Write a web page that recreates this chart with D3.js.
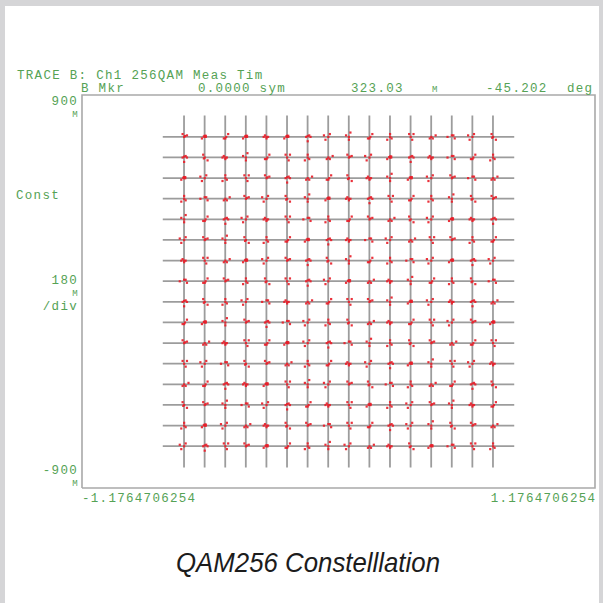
<!DOCTYPE html>
<html>
<head>
<meta charset="utf-8">
<script src="https://cdn.jsdelivr.net/npm/d3@7"></script>
<style>
html,body{margin:0;padding:0;background:#d5d5d7;}
svg{display:block;}
</style>
</head>
<body>
<script>
// ---- data ----
const xDomain = [-1.1764706254, 1.1764706254];
const yDomain = [-0.9, 0.9];
const xTickLabels = ["-1.1764706254", "1.1764706254"];
const yTickLabels = ["900", "-900"];
const yTickValues = [0.9, -0.9];
// ideal I / Q levels of the 256QAM grid
const levels = [-0.7085, -0.6140, -0.5195, -0.4251, -0.3306, -0.2361, -0.1417, -0.0472,
                 0.0472,  0.1417,  0.2361,  0.3306,  0.4251,  0.5195,  0.6140,  0.7085];
const gridExtent = 0.806;
// measured-point scatter shapes around each symbol (thousandths of a unit)
const clusterShapes = [
  [[0,0],[4,4],[13,7],[-7,13]],
  [[-13,0],[-7,7],[0,-7],[7,0],[0,0]],
  [[0,13],[7,-7],[-13,-13],[0,0]],
  [[7,7],[13,0],[-7,0],[0,-20],[0,4]],
  [[-7,-7],[0,0],[7,-7],[20,7]],
  [[0,-13],[-13,7],[7,20],[0,0]],
  [[-20,0],[0,7],[7,7],[13,-7]],
  [[7,-13],[0,0],[-7,13],[13,13]],
  [[0,0],[0,5],[5,0],[5,5],[-4,2],[-13,-7]],
  [[-7,13],[13,-13],[0,0],[-4,-4]],
  [[13,13],[-7,-7],[0,-7],[4,0]],
  [[-13,-13],[7,13],[0,0],[-20,7]]
];
// shape used by each symbol, rows from top (Q high) to bottom, columns I low to high
const clusterMap = [
  "08a8183b5a2746b9",
  "3915a7240b8316a2",
  "8b27034a9158b064",
  "2640b958137a2590",
  "5a3b1762a049b813",
  "b0592a8316b4702a",
  "1748b0395a26b83b",
  "6a02973b8415a296",
  "392b614a7058b134",
  "a85036b2941a7b08",
  "0417a8b3652904a7",
  "7b69042a1b3857b1",
  "4a31875b09624a39",
  "9056b3a1782b051a",
  "28b419067a3b5904",
  "b3708a25b4198672"
];
const header1 = "TRACE B: Ch1 256QAM Meas Tim";
const header2 = [["B Mkr", 81], ["0.0000 sym", 198], ["323.03", 351], ["-45.202", 486], ["deg", 567]];
const title = "QAM256 Constelllation";

// ---- drawing ----
const W = 603, H = 603;
const svg = d3.select("body").append("svg").attr("width", W).attr("height", H);
svg.append("rect").attr("x", 5).attr("y", 6).attr("width", 594).attr("height", H - 6).attr("fill", "#ffffff");

const pL = 82, pR = 595, pT = 95, pB = 488;
const x = d3.scaleLinear().domain(xDomain).range([pL, pR]);
const y = d3.scaleLinear().domain(yDomain).range([pB, pT]);

const green = "#55a255";
const mono = "'Liberation Mono','DejaVu Sans Mono',monospace";

// frame
svg.append("path")
  .attr("d", `M${pL},${pB}V${pT}H${pR}V${pB}H${pL}`)
  .attr("fill", "none").attr("stroke", "#a9a9a9").attr("stroke-width", 1.6);

// grid lines through constellation levels
const g = svg.append("g");
g.selectAll("line.v").data(levels).join("line").attr("class", "v")
  .attr("x1", d => x(d)).attr("x2", d => x(d))
  .attr("y1", y(gridExtent)).attr("y2", y(-gridExtent))
  .attr("stroke", "#9c9c9c").attr("stroke-width", 1.8);
g.selectAll("line.h").data(levels).join("line").attr("class", "h")
  .attr("y1", d => y(d)).attr("y2", d => y(d))
  .attr("x1", x(-gridExtent)).attr("x2", x(gridExtent))
  .attr("stroke", "#9c9c9c").attr("stroke-width", 1.8);

// measured points
const pts = [];
clusterMap.forEach((row, r) => {
  const q = levels[15 - r];
  for (let c = 0; c < 16; c++) {
    const i = levels[c];
    const shape = clusterShapes[parseInt(row[c], 16) % clusterShapes.length];
    shape.forEach(o => pts.push([i + o[0] / 1000, q + o[1] / 1000]));
  }
});
svg.append("g").selectAll("rect").data(pts).join("rect")
  .attr("x", d => x(d[0]) - 1).attr("y", d => y(d[1]) - 1)
  .attr("width", 2.2).attr("height", 2.2)
  .attr("fill", "#e8202a").attr("opacity", 0.92);

// texts
function txt(s, xx, yy, anchor, size) {
  return svg.append("text").text(s).attr("x", xx).attr("y", yy)
    .attr("text-anchor", anchor || "start")
    .attr("font-family", mono).attr("font-size", size || 12.5)
    .attr("letter-spacing", size ? 0.3 : 1.3)
    .attr("fill", green);
}
txt(header1, 17, 78.5);
header2.forEach(h => txt(h[0], h[1], 91.5));
txt("M", 432, 91.5, "start", 9);

// y tick labels (value line, then unit line)
const yLabelOffsets = [[10, 22], [-14, -2]];
yTickValues.forEach((v, k) => {
  txt(yTickLabels[k], 78, y(v) + yLabelOffsets[k][0], "end");
  txt("M", 78, y(v) + yLabelOffsets[k][1], "end", 9);
});
txt("Const", 16, 199);
txt("180", 78, 283.5, "end");
txt("M", 78, 296, "end", 9);
txt("/div", 78, 310, "end");

// x tick labels
txt(xTickLabels[0], x(xDomain[0]), 501.5, "start");
txt(xTickLabels[1], x(xDomain[1]) + 1.3, 501.5, "end");

// title
svg.append("text").text(title)
  .attr("x", 176).attr("y", 572)
  .attr("font-family", "'Liberation Sans', Arial, sans-serif")
  .attr("font-style", "italic").attr("font-size", 28.5)
  .attr("textLength", 264).attr("lengthAdjust", "spacingAndGlyphs")
  .attr("fill", "#1c1c1c");
</script>
</body>
</html>
